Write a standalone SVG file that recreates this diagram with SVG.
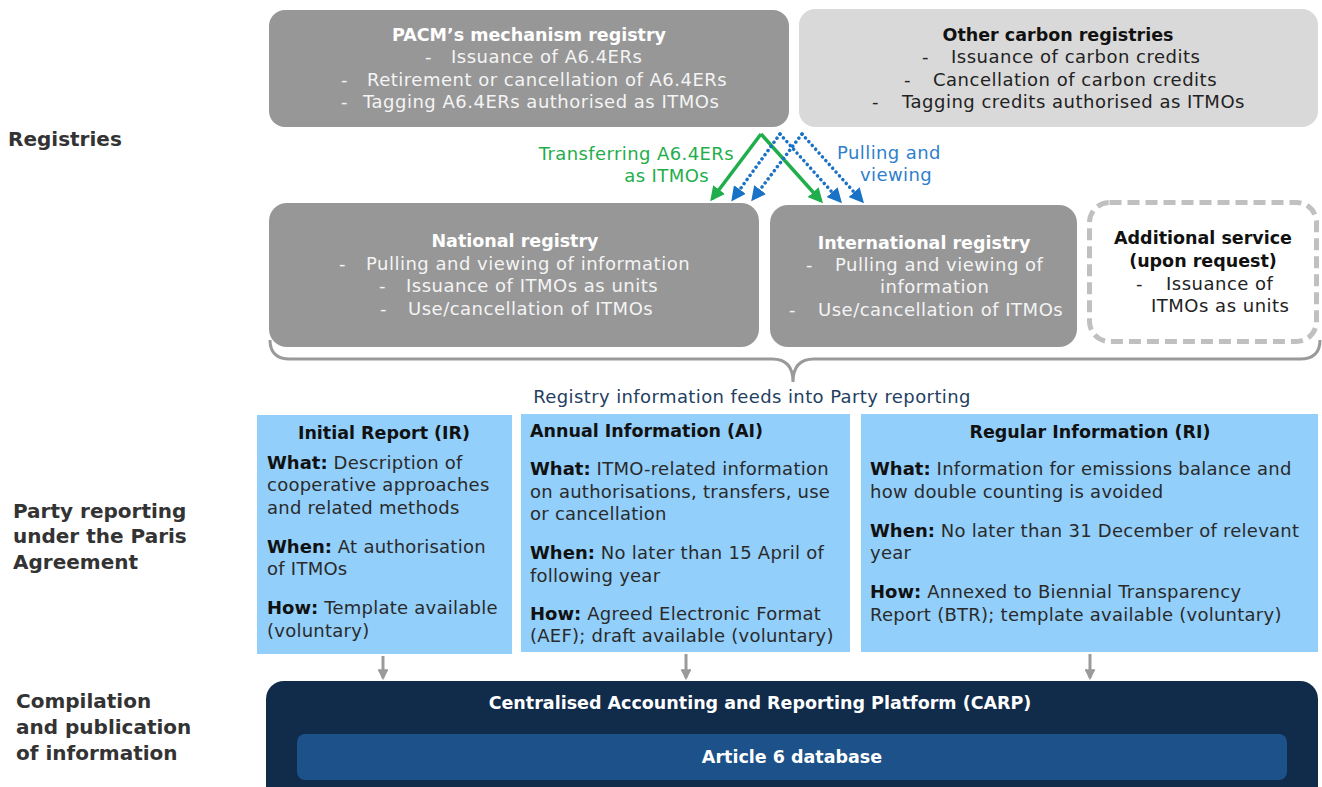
<svg xmlns="http://www.w3.org/2000/svg" width="1322" height="787" viewBox="0 0 1322 787">
  <defs>
    <marker id="ahGreen" viewBox="0 0 10 10" refX="8" refY="5" markerWidth="4.2" markerHeight="4.2" orient="auto" markerUnits="strokeWidth">
      <path d="M0,0 L10,5 L0,10 z" fill="#1fae4b"/>
    </marker>
    <marker id="ahBlue" viewBox="0 0 10 10" refX="8" refY="5" markerWidth="4.2" markerHeight="4.2" orient="auto" markerUnits="strokeWidth">
      <path d="M0,0 L10,5 L0,10 z" fill="#1a72c6"/>
    </marker>
    <marker id="ahGrey" viewBox="0 0 10 10" refX="8" refY="5" markerWidth="3.6" markerHeight="3.6" orient="auto" markerUnits="strokeWidth">
      <path d="M0,0 L10,5 L0,10 z" fill="#9a9a9a"/>
    </marker>
  </defs>
  <style>
    text { font-family: "DejaVu Sans", "Open Sans", sans-serif; }
    .side { font-size: 20px; font-weight: bold; fill: #333333; }
    .ttlW { font-size: 17.5px; font-weight: bold; fill: #ffffff; text-anchor: middle; }
    .ttlB { font-size: 17.5px; font-weight: bold; fill: #111111; text-anchor: middle; }
    .ttlL { font-size: 17.5px; font-weight: bold; fill: #111111; text-anchor: start; }
    .lnW { font-size: 18px; letter-spacing: 0.5px; fill: #f4f4f4; }
    .lnD { font-size: 18px; letter-spacing: 0.5px; fill: #222222; }
    .rep { font-size: 18px; letter-spacing: 0.25px; fill: #2a2a2a; }
    .rep .k { font-weight: bold; fill: #111111; letter-spacing: 0; }
    .greyBox { fill: #979797; }
    .green { fill: #1fae4b; font-size: 18px; letter-spacing: 0.4px; text-anchor: end; }
    .blue { fill: #2f7fcb; font-size: 18px; letter-spacing: 0.4px; text-anchor: middle; }
    .blueBox { fill: #92cffb; }
    .gArrow { stroke: #1fae4b; stroke-width: 3.5; fill: none; marker-end: url(#ahGreen); }
    .bArrow { stroke: #1a72c6; stroke-width: 3.5; fill: none; stroke-dasharray: 0.1 5; stroke-linecap: round; marker-end: url(#ahBlue); }
    .dArrow { stroke: #9a9a9a; stroke-width: 3; fill: none; marker-end: url(#ahGrey); }
  </style>

  <rect width="1322" height="787" fill="#ffffff"/>

  <!-- row labels -->
  <g id="row-labels">
    <text class="side" x="8" y="146">Registries</text>
    <text class="side" x="13" y="518">Party reporting</text>
    <text class="side" x="13" y="543">under the Paris</text>
    <text class="side" x="13" y="569">Agreement</text>
    <text class="side" x="16" y="708">Compilation</text>
    <text class="side" x="16" y="734">and publication</text>
    <text class="side" x="16" y="760">of information</text>
  </g>

  <!-- registries -->
  <g id="pacm-registry">
    <rect class="greyBox" x="269" y="10" width="520" height="117" rx="16"/>
    <text class="ttlW" x="529" y="41">PACM’s mechanism registry</text>
    <text class="lnW" y="63"><tspan x="425">-</tspan><tspan x="451">Issuance of A6.4ERs</tspan></text>
    <text class="lnW" y="86"><tspan x="341">-</tspan><tspan x="367">Retirement or cancellation of A6.4ERs</tspan></text>
    <text class="lnW" y="108"><tspan x="341">-</tspan><tspan x="363">Tagging A6.4ERs authorised as ITMOs</tspan></text>
  </g>

  <g id="other-registries">
    <rect x="799" y="9" width="519" height="118" rx="16" fill="#d9d9d9"/>
    <text class="ttlB" x="1058" y="41">Other carbon registries</text>
    <text class="lnD" y="63"><tspan x="922">-</tspan><tspan x="951">Issuance of carbon credits</tspan></text>
    <text class="lnD" y="86"><tspan x="904">-</tspan><tspan x="933">Cancellation of carbon credits</tspan></text>
    <text class="lnD" y="108"><tspan x="872">-</tspan><tspan x="902">Tagging credits authorised as ITMOs</tspan></text>
  </g>

  <g id="national-registry">
    <rect class="greyBox" x="269" y="203" width="490" height="144" rx="18"/>
    <text class="ttlW" x="515" y="247">National registry</text>
    <text class="lnW" y="270"><tspan x="339">-</tspan><tspan x="366">Pulling and viewing of information</tspan></text>
    <text class="lnW" y="292"><tspan x="379">-</tspan><tspan x="406">Issuance of ITMOs as units</tspan></text>
    <text class="lnW" y="315"><tspan x="380">-</tspan><tspan x="408">Use/cancellation of ITMOs</tspan></text>
  </g>

  <g id="international-registry">
    <rect class="greyBox" x="770" y="205" width="307" height="142" rx="18"/>
    <text class="ttlW" x="924" y="249">International registry</text>
    <text class="lnW" y="271"><tspan x="806">-</tspan><tspan x="835">Pulling and viewing of</tspan></text>
    <text class="lnW" y="293"><tspan x="880">information</tspan></text>
    <text class="lnW" y="316"><tspan x="789">-</tspan><tspan x="818">Use/cancellation of ITMOs</tspan></text>
  </g>

  <g id="additional-service">
    <rect x="1089.5" y="202.5" width="227" height="139" rx="20" fill="#ffffff" stroke="#c0c0c0" stroke-width="5" stroke-dasharray="12 6"/>
    <text class="ttlB" x="1203" y="244">Additional service</text>
    <text class="ttlB" x="1203" y="267">(upon request)</text>
    <text class="lnD" y="290"><tspan x="1136">-</tspan><tspan x="1166">Issuance of</tspan></text>
    <text class="lnD" y="312"><tspan x="1151">ITMOs as units</tspan></text>
  </g>

  <!-- registry connectors -->
  <g id="connectors">
    <polyline class="gArrow" points="761,134 712,199"/>
    <polyline class="gArrow" points="761,134 821,201"/>
    <polyline class="bArrow" points="780,134 733,199"/>
    <polyline class="bArrow" points="802,134 753,199"/>
    <polyline class="bArrow" points="780,134 840,201"/>
    <polyline class="bArrow" points="802,134 862,201"/>
    <line class="dArrow" x1="383" y1="656" x2="383" y2="678"/>
    <line class="dArrow" x1="686" y1="654" x2="686" y2="678"/>
    <line class="dArrow" x1="1090" y1="654" x2="1090" y2="678"/>
  </g>

  <g id="connector-labels">
    <text class="green" x="734" y="160">Transferring A6.4ERs</text>
    <text class="green" x="709" y="182">as ITMOs</text>
    <text class="blue" x="889" y="159">Pulling and</text>
    <text class="blue" x="896" y="181">viewing</text>
  </g>

  <!-- brace gathering the registries -->
  <g id="registry-brace">
    <path d="M270,340 Q270,359 290,359 L772,359 Q793,359 793,382 Q793,359 814,359 L1300,359 Q1320,359 1320,340" fill="none" stroke="#9a9a9a" stroke-width="3"/>
    <text x="752" y="403" font-size="18" letter-spacing="0.4" fill="#23405f" text-anchor="middle">Registry information feeds into Party reporting</text>
  </g>

  <!-- party reporting -->
  <g id="initial-report">
    <rect class="blueBox" x="257" y="415" width="255" height="239"/>
    <text class="ttlB" x="384" y="439">Initial Report (IR)</text>
    <text class="rep" x="267" y="469"><tspan class="k">What:</tspan> Description of</text>
    <text class="rep" x="267" y="491">cooperative approaches</text>
    <text class="rep" x="267" y="514">and related methods</text>
    <text class="rep" x="267" y="553"><tspan class="k">When:</tspan> At authorisation</text>
    <text class="rep" x="267" y="575">of ITMOs</text>
    <text class="rep" x="267" y="614"><tspan class="k">How:</tspan> Template available</text>
    <text class="rep" x="267" y="637">(voluntary)</text>
  </g>

  <g id="annual-information">
    <rect class="blueBox" x="521" y="414" width="329" height="238"/>
    <text class="ttlL" x="530" y="437">Annual Information (AI)</text>
    <text class="rep" x="530" y="475"><tspan class="k">What:</tspan> ITMO-related information</text>
    <text class="rep" x="530" y="498">on authorisations, transfers, use</text>
    <text class="rep" x="530" y="520">or cancellation</text>
    <text class="rep" x="530" y="559"><tspan class="k">When:</tspan> No later than 15 April of</text>
    <text class="rep" x="530" y="582">following year</text>
    <text class="rep" x="530" y="620"><tspan class="k">How:</tspan> Agreed Electronic Format</text>
    <text class="rep" x="530" y="642">(AEF); draft available (voluntary)</text>
  </g>

  <g id="regular-information">
    <rect class="blueBox" x="861" y="414" width="457" height="238"/>
    <text class="ttlB" x="1090" y="438">Regular Information (RI)</text>
    <text class="rep" x="870" y="475"><tspan class="k">What:</tspan> Information for emissions balance and</text>
    <text class="rep" x="870" y="498">how double counting is avoided</text>
    <text class="rep" x="870" y="537"><tspan class="k">When:</tspan> No later than 31 December of relevant</text>
    <text class="rep" x="870" y="559">year</text>
    <text class="rep" x="870" y="598"><tspan class="k">How:</tspan> Annexed to Biennial Transparency</text>
    <text class="rep" x="870" y="621">Report (BTR); template available (voluntary)</text>
  </g>

  <!-- compilation platform -->
  <g id="carp">
    <rect x="266" y="681" width="1052" height="130" rx="18" fill="#112b4b"/>
    <text class="ttlW" x="760" y="709">Centralised Accounting and Reporting Platform (CARP)</text>
  </g>
  <g id="article6-db">
    <rect x="297" y="734" width="990" height="46" rx="8" fill="#1c5189"/>
    <text class="ttlW" x="792" y="763">Article 6 database</text>
  </g>
</svg>
